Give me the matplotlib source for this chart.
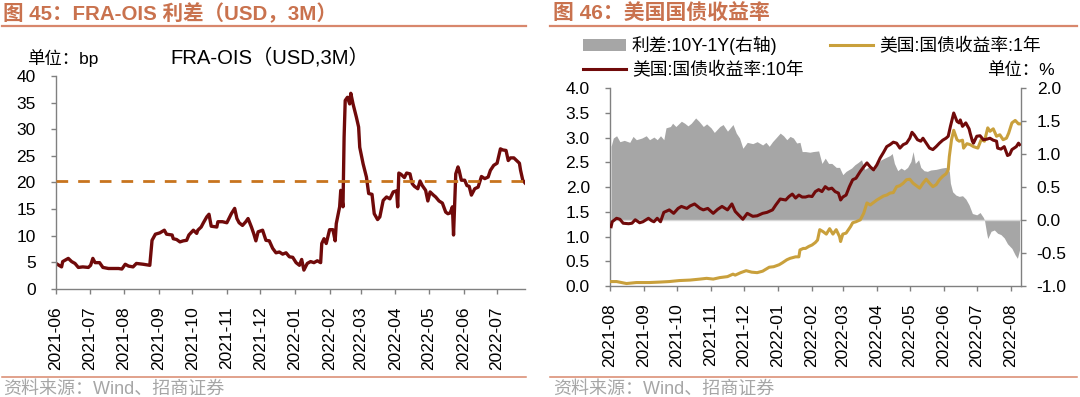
import matplotlib
matplotlib.use('Agg')
import matplotlib.pyplot as plt
from matplotlib.lines import Line2D
from matplotlib.patches import Patch
import pandas as pd

plt.rcParams['font.family'] = ['Liberation Sans', 'Noto Sans CJK SC', 'DejaVu Sans']
plt.rcParams['axes.unicode_minus'] = False

# ---------------- data: left chart (FRA-OIS, bp) ----------------
fra_dates = [
    '2021-06-01', '2021-06-06', '2021-06-07', '2021-06-12', '2021-06-15', '2021-06-18', '2021-06-21', '2021-06-25', '2021-06-30', '2021-07-02',
    '2021-07-04', '2021-07-06', '2021-07-10', '2021-07-13', '2021-07-18', '2021-07-22', '2021-07-27', '2021-07-30', '2021-08-02', '2021-08-05',
    '2021-08-09', '2021-08-12', '2021-08-18', '2021-08-24', '2021-08-26', '2021-08-29', '2021-09-02', '2021-09-06', '2021-09-08', '2021-09-13',
    '2021-09-14', '2021-09-17', '2021-09-20', '2021-09-23', '2021-09-26', '2021-09-28', '2021-10-02', '2021-10-05', '2021-10-06', '2021-10-09',
    '2021-10-11', '2021-10-14', '2021-10-16', '2021-10-18', '2021-10-23', '2021-10-24', '2021-10-28', '2021-11-01', '2021-11-05', '2021-11-08',
    '2021-11-10', '2021-11-12', '2021-11-15', '2021-11-18', '2021-11-20', '2021-11-23', '2021-11-25', '2021-11-27', '2021-11-29', '2021-12-03',
    '2021-12-06', '2021-12-09', '2021-12-12', '2021-12-15', '2021-12-18', '2021-12-21', '2021-12-24', '2021-12-27', '2021-12-30', '2022-01-02',
    '2022-01-05', '2022-01-07', '2022-01-09', '2022-01-12', '2022-01-15', '2022-01-18', '2022-01-21', '2022-01-24', '2022-01-25', '2022-01-27',
    '2022-01-29', '2022-02-01', '2022-02-04', '2022-02-06', '2022-02-07', '2022-02-10', '2022-02-11', '2022-02-13', '2022-02-14', '2022-02-15',
    '2022-02-17', '2022-02-19', '2022-02-20', '2022-02-22', '2022-02-25', '2022-02-27', '2022-02-28', '2022-03-03', '2022-03-06', '2022-03-08',
    '2022-03-11', '2022-03-13', '2022-03-16', '2022-03-18', '2022-03-21', '2022-03-24', '2022-03-27', '2022-03-30', '2022-04-02', '2022-04-03',
    '2022-04-04', '2022-04-06', '2022-04-09', '2022-04-11', '2022-04-14', '2022-04-16', '2022-04-18', '2022-04-21', '2022-04-23', '2022-04-25',
    '2022-04-28', '2022-04-30', '2022-05-02', '2022-05-05', '2022-05-07', '2022-05-10', '2022-05-13', '2022-05-16', '2022-05-18', '2022-05-20',
    '2022-05-22', '2022-05-23', '2022-05-25', '2022-05-27', '2022-05-28', '2022-05-30', '2022-06-02', '2022-06-04', '2022-06-06', '2022-06-08',
    '2022-06-11', '2022-06-14', '2022-06-17', '2022-06-20', '2022-06-23', '2022-06-25', '2022-06-28', '2022-07-01', '2022-07-04', '2022-07-06',
    '2022-07-09', '2022-07-11', '2022-07-13', '2022-07-16', '2022-07-18', '2022-07-21', '2022-07-22', '2022-07-24', '2022-07-26',
]
fra_values = [
    4.75, 4.1, 5.1, 5.7, 5.1, 4.75, 4.0, 4.1, 4.0, 4.4,
    5.7, 4.9, 4.9, 4.0, 3.8, 3.8, 3.8, 3.7, 4.6, 4.25,
    4.1, 4.75, 4.6, 4.4, 9.1, 10.25, 10.5, 11.0, 10.25, 10.1,
    9.4, 9.25, 8.8, 9.0, 9.1, 10.1, 11.0, 10.4, 11.0, 11.6,
    12.4, 13.5, 14.0, 11.75, 11.6, 12.6, 12.6, 12.4, 14.1, 15.1,
    13.2, 12.4, 11.9, 12.6, 13.2, 11.6, 10.4, 9.0, 10.7, 11.0,
    9.1, 9.0, 7.6, 6.75, 6.9, 6.5, 6.75, 6.0, 5.9, 4.9,
    4.4, 5.5, 3.5, 4.75, 5.1, 4.9, 5.25, 4.9, 8.5, 9.4,
    8.5, 11.1, 11.1, 9.0, 12.25, 15.4, 18.5, 15.4, 28.5, 35.4,
    36.0, 34.75, 36.75, 34.75, 32.25, 30.4, 26.6, 23.5, 21.0, 17.9,
    17.75, 14.1, 13.0, 13.5, 16.6, 17.25, 16.9, 18.2, 18.4, 15.4,
    21.75, 21.5, 20.9, 21.75, 21.6, 19.75, 19.25, 18.8, 20.25, 19.4,
    18.5, 16.5, 18.2, 17.6, 17.25, 16.5, 16.1, 14.4, 14.1, 14.25,
    15.4, 10.1, 21.6, 22.9, 22.25, 20.4, 20.4, 19.4, 19.25, 17.6,
    18.8, 19.1, 21.1, 20.7, 21.0, 22.25, 23.2, 23.6, 26.3, 26.1,
    26.0, 24.1, 24.6, 24.6, 24.2, 23.6, 22.3, 20.4, 19.9,
]
fra_mean = 20.3
fra_ticks = ['2021-06', '2021-07', '2021-08', '2021-09', '2021-10', '2021-11', '2021-12',
             '2022-01', '2022-02', '2022-03', '2022-04', '2022-05', '2022-06', '2022-07']

# ---------------- data: right chart (US Treasury yields, %) ----------------
spread_dates = [
    '2021-08-02', '2021-08-04', '2021-08-07', '2021-08-10', '2021-08-14', '2021-08-19', '2021-08-22', '2021-08-25', '2021-08-30', '2021-09-03',
    '2021-09-06', '2021-09-10', '2021-09-13', '2021-09-16', '2021-09-19', '2021-09-21', '2021-09-25', '2021-09-27', '2021-09-30', '2021-10-05',
    '2021-10-08', '2021-10-11', '2021-10-14', '2021-10-18', '2021-10-21', '2021-10-25', '2021-10-28', '2021-11-01', '2021-11-04', '2021-11-09',
    '2021-11-12', '2021-11-16', '2021-11-21', '2021-11-24', '2021-11-27', '2021-11-30', '2021-12-04', '2021-12-09', '2021-12-13', '2021-12-18',
    '2021-12-21', '2021-12-24', '2021-12-27', '2021-12-30', '2022-01-03', '2022-01-06', '2022-01-09', '2022-01-12', '2022-01-15', '2022-01-18',
    '2022-01-21', '2022-01-23', '2022-01-26', '2022-01-30', '2022-02-02', '2022-02-07', '2022-02-10', '2022-02-13', '2022-02-16', '2022-02-19',
    '2022-02-23', '2022-02-26', '2022-03-01', '2022-03-04', '2022-03-09', '2022-03-12', '2022-03-15', '2022-03-18', '2022-03-21', '2022-03-24',
    '2022-03-27', '2022-03-30', '2022-04-02', '2022-04-05', '2022-04-08', '2022-04-13', '2022-04-15', '2022-04-17', '2022-04-20', '2022-04-23',
    '2022-04-26', '2022-04-29', '2022-05-02', '2022-05-04', '2022-05-06', '2022-05-09', '2022-05-11', '2022-05-14', '2022-05-17', '2022-05-20',
    '2022-05-25', '2022-05-30', '2022-06-03', '2022-06-06', '2022-06-07', '2022-06-09', '2022-06-12', '2022-06-15', '2022-06-18', '2022-06-21',
    '2022-06-24', '2022-06-27', '2022-07-01', '2022-07-04', '2022-07-07', '2022-07-08', '2022-07-10', '2022-07-11', '2022-07-14', '2022-07-17',
    '2022-07-20', '2022-07-23', '2022-07-26', '2022-07-29', '2022-08-02', '2022-08-05', '2022-08-07', '2022-08-09',
]
spread_values = [
    1.12, 1.245, 1.28, 1.19, 1.21, 1.18, 1.27, 1.22, 1.245, 1.28,
    1.22, 1.26, 1.22, 1.28, 1.22, 1.40, 1.42, 1.47, 1.42, 1.50,
    1.47, 1.43, 1.47, 1.55, 1.50, 1.42, 1.46, 1.40, 1.33, 1.42,
    1.45, 1.35, 1.45, 1.32, 1.245, 1.09, 1.18, 1.16, 1.19, 1.14,
    1.18, 1.12, 1.19, 1.245, 1.32, 1.28, 1.22, 1.27, 1.245, 1.17,
    1.18, 1.04, 1.04, 1.03, 1.04, 1.05, 0.86, 0.94, 0.86, 0.86,
    0.80, 0.80, 0.69, 0.74, 0.79, 0.84, 0.875, 0.915, 0.77, 0.80,
    0.82, 0.76, 0.875, 0.915, 0.94, 0.98, 1.01, 0.86, 0.75, 0.79,
    0.76, 0.80, 0.89, 1.04, 0.86, 0.915, 0.80, 0.75, 0.74, 0.76,
    0.77, 0.79, 0.80, 0.74, 0.56, 0.43, 0.38, 0.36, 0.37, 0.32,
    0.23, 0.10, 0.08, 0.115, 0.04, 0.0, -0.20, -0.28, -0.17, -0.15,
    -0.20, -0.22, -0.27, -0.36, -0.43, -0.53, -0.58, -0.45,
]
y10_dates = [
    '2021-08-02', '2021-08-03', '2021-08-07', '2021-08-10', '2021-08-13', '2021-08-18', '2021-08-21', '2021-08-24', '2021-08-28', '2021-08-31',
    '2021-09-05', '2021-09-08', '2021-09-10', '2021-09-13', '2021-09-16', '2021-09-19', '2021-09-24', '2021-09-28', '2021-10-02', '2021-10-05',
    '2021-10-10', '2021-10-13', '2021-10-17', '2021-10-22', '2021-10-25', '2021-10-29', '2021-11-03', '2021-11-07', '2021-11-11', '2021-11-16',
    '2021-11-20', '2021-11-23', '2021-11-26', '2021-11-30', '2021-12-04', '2021-12-09', '2021-12-13', '2021-12-18', '2021-12-22', '2021-12-27',
    '2021-12-30', '2022-01-03', '2022-01-08', '2022-01-11', '2022-01-14', '2022-01-17', '2022-01-20', '2022-01-23', '2022-01-26', '2022-01-29',
    '2022-02-01', '2022-02-04', '2022-02-07', '2022-02-10', '2022-02-13', '2022-02-16', '2022-02-19', '2022-02-22', '2022-02-25', '2022-02-27',
    '2022-03-01', '2022-03-04', '2022-03-07', '2022-03-10', '2022-03-13', '2022-03-17', '2022-03-20', '2022-03-23', '2022-03-26', '2022-03-29',
    '2022-04-01', '2022-04-04', '2022-04-07', '2022-04-10', '2022-04-13', '2022-04-16', '2022-04-19', '2022-04-22', '2022-04-25', '2022-04-28',
    '2022-05-01', '2022-05-03', '2022-05-05', '2022-05-08', '2022-05-11', '2022-05-13', '2022-05-16', '2022-05-19', '2022-05-22', '2022-05-25',
    '2022-05-28', '2022-05-31', '2022-06-03', '2022-06-05', '2022-06-07', '2022-06-10', '2022-06-13', '2022-06-15', '2022-06-16', '2022-06-18',
    '2022-06-21', '2022-06-24', '2022-06-25', '2022-06-27', '2022-06-28', '2022-07-01', '2022-07-04', '2022-07-07', '2022-07-10', '2022-07-13',
    '2022-07-16', '2022-07-19', '2022-07-20', '2022-07-23', '2022-07-26', '2022-07-29', '2022-07-31', '2022-08-02', '2022-08-04', '2022-08-06',
    '2022-08-08', '2022-08-09',
]
y10_values = [
    1.20, 1.30, 1.37, 1.35, 1.27, 1.26, 1.27, 1.34, 1.28, 1.30,
    1.37, 1.32, 1.30, 1.37, 1.30, 1.49, 1.54, 1.47, 1.57, 1.61,
    1.57, 1.62, 1.66, 1.57, 1.54, 1.57, 1.47, 1.55, 1.61, 1.54,
    1.66, 1.51, 1.44, 1.35, 1.47, 1.41, 1.42, 1.47, 1.49, 1.54,
    1.64, 1.76, 1.74, 1.81, 1.86, 1.78, 1.84, 1.80, 1.80, 1.82,
    1.81, 1.91, 1.95, 1.91, 2.01, 1.96, 1.98, 1.91, 1.88, 1.74,
    1.80, 1.84, 2.01, 2.15, 2.18, 2.32, 2.41, 2.49, 2.41, 2.35,
    2.45, 2.59, 2.70, 2.82, 2.86, 2.91, 2.89, 2.79, 2.86, 2.89,
    2.99, 3.11, 3.06, 2.96, 2.93, 2.99, 2.89, 2.79, 2.76, 2.82,
    2.89, 2.95, 2.99, 3.03, 3.23, 3.50, 3.33, 3.30, 3.36, 3.23,
    3.30, 3.18, 3.09, 2.93, 2.89, 3.03, 3.04, 2.96, 2.97, 2.99,
    2.95, 2.93, 2.79, 2.77, 2.82, 2.64, 2.66, 2.76, 2.79, 2.82,
    2.89, 2.86,
]
y1_dates = [
    '2021-08-02', '2021-08-07', '2021-08-16', '2021-08-25', '2021-09-06', '2021-09-16', '2021-09-24', '2021-10-03', '2021-10-13', '2021-10-22',
    '2021-10-28', '2021-11-03', '2021-11-09', '2021-11-16', '2021-11-21', '2021-11-23', '2021-11-28', '2021-12-03', '2021-12-08', '2021-12-13',
    '2021-12-18', '2021-12-24', '2021-12-28', '2022-01-02', '2022-01-05', '2022-01-09', '2022-01-12', '2022-01-17', '2022-01-20', '2022-01-21',
    '2022-01-24', '2022-01-26', '2022-01-29', '2022-02-01', '2022-02-04', '2022-02-06', '2022-02-08', '2022-02-11', '2022-02-14', '2022-02-17',
    '2022-02-20', '2022-02-23', '2022-02-26', '2022-02-27', '2022-03-01', '2022-03-04', '2022-03-08', '2022-03-10', '2022-03-13', '2022-03-17',
    '2022-03-20', '2022-03-23', '2022-03-26', '2022-03-29', '2022-04-01', '2022-04-04', '2022-04-07', '2022-04-10', '2022-04-13', '2022-04-16',
    '2022-04-19', '2022-04-22', '2022-04-25', '2022-04-28', '2022-05-01', '2022-05-04', '2022-05-07', '2022-05-10', '2022-05-13', '2022-05-16',
    '2022-05-19', '2022-05-22', '2022-05-25', '2022-05-28', '2022-05-31', '2022-06-03', '2022-06-05', '2022-06-06', '2022-06-08', '2022-06-10',
    '2022-06-13', '2022-06-15', '2022-06-18', '2022-06-19', '2022-06-22', '2022-06-25', '2022-06-28', '2022-07-02', '2022-07-05', '2022-07-08',
    '2022-07-11', '2022-07-13', '2022-07-16', '2022-07-19', '2022-07-22', '2022-07-25', '2022-07-28', '2022-07-30', '2022-08-02', '2022-08-05',
    '2022-08-08', '2022-08-09',
]
y1_values = [
    0.09, 0.09, 0.05, 0.07, 0.07, 0.08, 0.09, 0.11, 0.12, 0.14,
    0.155, 0.14, 0.17, 0.19, 0.24, 0.22, 0.27, 0.31, 0.28, 0.27,
    0.30, 0.38, 0.39, 0.43, 0.47, 0.53, 0.56, 0.59, 0.59, 0.73,
    0.76, 0.76, 0.80, 0.83, 0.88, 0.93, 1.14, 1.10, 1.05, 1.16,
    1.05, 1.14, 1.00, 0.90, 1.05, 1.07, 1.20, 1.28, 1.30, 1.34,
    1.47, 1.68, 1.64, 1.69, 1.74, 1.78, 1.82, 1.84, 1.88, 1.89,
    2.01, 2.03, 2.08, 2.15, 2.16, 2.08, 2.03, 1.98, 2.08, 2.16,
    2.08, 2.01, 2.05, 2.15, 2.22, 2.27, 2.35, 2.62, 2.96, 3.15,
    2.96, 2.93, 2.95, 2.79, 2.88, 2.86, 2.82, 2.79, 2.96, 2.93,
    3.20, 3.13, 3.18, 3.03, 3.06, 2.96, 2.99, 3.09, 3.30, 3.35,
    3.28, 3.28,
]
ust_ticks = ['2021-08', '2021-09', '2021-10', '2021-11', '2021-12', '2022-01', '2022-02',
             '2022-03', '2022-04', '2022-05', '2022-06', '2022-07', '2022-08']
left_yticks = [0.0, 0.5, 1.0, 1.5, 2.0, 2.5, 3.0, 3.5, 4.0]
right_yticks = [-1.0, -0.5, 0.0, 0.5, 1.0, 1.5, 2.0]

# ---------------- styling ----------------
W, H = 1080, 397
TITLE_C = '#C9724E'
RULE_C = '#D8876C'
SRC_C = '#A6A6A6'
SPINE_C = '#808080'
MAROON = '#700A0A'
GOLD = '#C9A03C'
GRAY_FILL = '#A6A6A6'
DASH_C = '#C8741E'
TICK_FS = 12.5


def fx(px):
    return px / W


def fy(py):
    return 1 - py / H


fig = plt.figure(figsize=(W / 100, H / 100), dpi=100)

# titles, rules, sources
fig.text(fx(3), fy(14), '图 45：FRA-OIS 利差（USD，3M）', fontsize=14.8, fontweight='bold',
         color=TITLE_C, va='center', ha='left')
fig.text(fx(553), fy(14), '图 46：美国国债收益率', fontsize=15, fontweight='bold',
         color=TITLE_C, va='center', ha='left')
for x0, x1 in [(2, 526), (550, 1077)]:
    fig.add_artist(Line2D([fx(x0), fx(x1)], [fy(26), fy(26)], color=RULE_C, lw=1.6))
    fig.add_artist(Line2D([fx(x0), fx(x1)], [fy(377), fy(377)], color=RULE_C, lw=1.1))
fig.text(fx(3), fy(389), '资料来源：Wind、招商证券', fontsize=13, color=SRC_C, va='center', ha='left')
fig.text(fx(553), fy(389), '资料来源：Wind、招商证券', fontsize=13, color=SRC_C, va='center', ha='left')


def style_axis(ax):
    ax.spines['top'].set_visible(False)
    for s in ['left', 'bottom', 'right']:
        ax.spines[s].set_color(SPINE_C)
        ax.spines[s].set_linewidth(1.0)
    ax.tick_params(axis='both', which='both', direction='out', length=3.5, width=1.0,
                   color=SPINE_C, labelsize=TICK_FS, labelcolor='black')
    ax.tick_params(axis='x', pad=9)
    ax.tick_params(axis='y', pad=11)


# ---------------- left chart ----------------
ax1 = fig.add_axes([fx(56), fy(288.7), fx(525 - 56), (288.7 - 76) / H])
fra_x = pd.to_datetime(fra_dates)
ax1.plot(fra_x, fra_values, color=MAROON, lw=2.4, solid_joinstyle='round', zorder=2)
ax1.axhline(fra_mean, color=DASH_C, lw=2.0, linestyle=(0, (4.2, 3.6)), zorder=3)
ax1.set_ylim(0, 40)
ax1.set_yticks(range(0, 41, 5))
ax1.set_xlim(pd.Timestamp('2021-06-01'), pd.Timestamp('2022-07-26'))
ax1.set_xticks(pd.to_datetime(fra_ticks))
ax1.set_xticklabels(fra_ticks, rotation=90)
style_axis(ax1)
ax1.spines['right'].set_visible(False)
fig.text(fx(27), fy(57.6), '单位：bp', fontsize=12.5, va='center', ha='left')
fig.text(fx(170), fy(57.6), 'FRA-OIS（USD,3M）', fontsize=14.6, va='center', ha='left')

# ---------------- right chart ----------------
ax2 = fig.add_axes([fx(610), fy(286), fx(1020.7 - 610), (286 - 88.3) / H])
ax2r = ax2.twinx()
ax2.set_zorder(ax2r.get_zorder() + 1)
ax2.patch.set_visible(False)

sp_x = pd.to_datetime(spread_dates)
ax2r.fill_between(sp_x, 0, spread_values, color=GRAY_FILL, lw=0, zorder=1)
ax2r.axhline(0, color='#D6D6D6', lw=1.0, zorder=2)
ax2r.set_ylim(-1.0, 2.0)
ax2r.set_yticks(right_yticks)
ax2r.set_yticklabels([f'{v:.1f}' for v in right_yticks])

ax2.plot(pd.to_datetime(y1_dates), y1_values, color=GOLD, lw=2.2, zorder=3)
ax2.plot(pd.to_datetime(y10_dates), y10_values, color=MAROON, lw=2.2, zorder=4)
ax2.set_ylim(0, 4.0)
ax2.set_yticks(left_yticks)
ax2.set_yticklabels([f'{v:.1f}' for v in left_yticks])
ax2.set_xlim(pd.Timestamp('2021-08-01'), pd.Timestamp('2022-08-10'))
ax2.set_xticks(pd.to_datetime(ust_ticks))
ax2.set_xticklabels(ust_ticks, rotation=90)
style_axis(ax2)
style_axis(ax2r)
ax2.spines['right'].set_visible(False)
ax2r.spines['left'].set_visible(False)
ax2r.spines['bottom'].set_visible(False)
ax2r.tick_params(axis='y', pad=8)

handles = [Patch(facecolor=GRAY_FILL, edgecolor='none'),
           Line2D([], [], color=MAROON, lw=2.2),
           Line2D([], [], color=GOLD, lw=2.2)]
labels = ['利差:10Y-1Y(右轴)', '美国:国债收益率:10年', '美国:国债收益率:1年']
fig.legend(handles, labels, loc='upper left', bbox_to_anchor=(fx(583), fy(36)),
           ncol=2, frameon=False, fontsize=12.8, handlelength=2.4, handleheight=0.65,
           handletextpad=0.35, columnspacing=1.5, labelspacing=0.4, borderpad=0,
           borderaxespad=0)
fig.text(fx(1055), fy(70), '单位：%', fontsize=12.5, va='center', ha='right')

fig.savefig('out.png', dpi=100)
